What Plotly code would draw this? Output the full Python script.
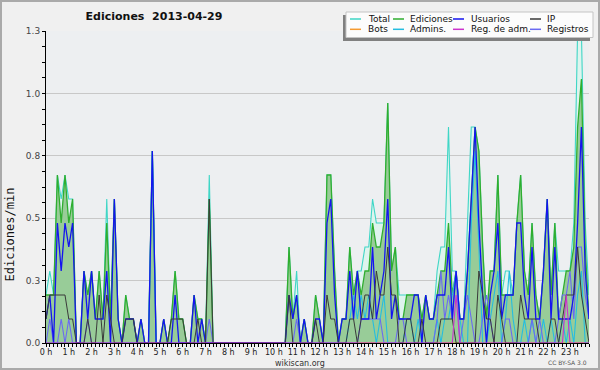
import plotly.graph_objects as go

# ---- data: edits per minute, 10-minute bins (6 per hour) ----
TOTAL = [
    .2, .3, .2, .7, .6, .7,      # 0 h
    .6, .6, 0, 0, .3, .2,        # 1 h
    .3, .1, .3, .1, .6, .1,      # 2 h
    .6, .1, 0, .2, .1, .1,       # 3 h
    0, .1, 0, 0, .8, 0,          # 4 h
    0, .1, 0, .1, .3, .1,        # 5 h
    .1, 0, 0, .2, .1, .1,        # 6 h
    0, .7, 0, 0, 0, 0,           # 7 h
    0, 0, 0, 0, 0, 0,            # 8 h
    0, 0, 0, 0, 0, 0,            # 9 h
    0, 0, 0, 0, .4, .1,          # 10 h
    .3, 0, .1, 0, 0, .2,         # 11 h
    .1, 0, .7, .7, .3, 0,        # 12 h
    .1, .1, .4, .2, .3, .3,      # 13 h
    .4, .4, .6, .5, .5, .5,      # 14 h
    1.0, .3, .4, .2, .2, .2,     # 15 h
    .2, .2, .2, .1, .2, .1,      # 16 h
    .1, .3, .4, .4, .9, .3,      # 17 h
    .3, .1, .1, .5, .9, .9,      # 18 h
    .8, .4, .1, .3, .3, .7,      # 19 h
    .2, .3, .3, .2, .5, .7,      # 20 h
    .3, .2, .5, .2, .1, .3,      # 21 h
    .6, .2, .5, .3, .3, .3,      # 22 h
    .3, .5, 1.3, 1.3, .5, .2,    # 23 h
]
EDICIONES = [
    .2, .2, .2, .7, .5, .7,
    .5, .6, 0, 0, .3, .2,
    .3, .1, .3, .1, .5, .1,
    .6, .1, 0, .2, .1, .1,
    0, .1, 0, 0, .8, 0,
    0, .1, 0, .1, .3, .1,
    .1, 0, 0, .2, .1, .1,
    0, .6, 0, 0, 0, 0,
    0, 0, 0, 0, 0, 0,
    0, 0, 0, 0, 0, 0,
    0, 0, 0, 0, .4, .1,
    .2, 0, .1, 0, 0, .2,
    .1, 0, .7, .7, .3, 0,
    .1, .1, .4, .2, .3, .2,
    .3, .3, .5, .4, .4, .5,
    1.0, .3, .4, .1, .1, .2,
    .2, .2, .2, .1, .2, .1,
    .1, .2, .3, .3, .5, .2,
    .3, .1, .1, .3, .6, .9,
    .8, .4, .1, .3, .3, .7,
    .2, .2, .2, .2, .5, .7,
    .3, .2, .5, .2, .1, .3,
    .6, .2, .5, .1, .2, .3,
    .3, .4, .9, 1.1, .4, .1,
]
USUARIOS = [
    .1, .2, 0, .5, .3, .5,
    .4, .5, 0, 0, .3, .1,
    .3, .1, .1, .1, .3, 0,
    .6, .1, 0, .1, .1, .1,
    0, .1, 0, 0, .8, 0,
    0, .1, 0, 0, .2, 0,
    0, 0, 0, .2, 0, .1,
    0, 0, 0, 0, 0, 0,
    0, 0, 0, 0, 0, 0,
    0, 0, 0, 0, 0, 0,
    0, 0, 0, 0, .2, .1,
    .2, 0, .1, 0, 0, .1,
    .1, 0, .5, .6, .2, 0,
    .1, .1, .3, .1, .3, .1,
    .1, .1, .4, .1, .2, .3,
    .6, .1, .2, .1, .1, .1,
    .1, .2, .2, 0, .2, .1,
    .1, .2, .2, .2, .4, .1,
    .3, .1, .1, .3, .6, .9,
    .5, .2, 0, .2, .3, .5,
    .1, .2, .2, .2, .5, .5,
    .2, .1, .4, .1, .1, .3,
    .6, .1, .4, .1, .1, .1,
    .1, .2, .5, .9, .3, .1,
]
IP = [
    .1, .2, .2, .2, .2, .2,
    .1, .1, 0, 0, 0, .1,
    0, 0, .2, 0, .2, .1,
    0, 0, 0, .1, .1, .1,
    0, 0, 0, 0, 0, 0,
    0, 0, 0, .1, .1, .1,
    .1, 0, 0, 0, .1, 0,
    0, .6, 0, 0, 0, 0,
    0, 0, 0, 0, 0, 0,
    0, 0, 0, 0, 0, 0,
    0, 0, 0, 0, .2, 0,
    0, 0, 0, 0, 0, .1,
    0, 0, .2, .1, .1, 0,
    0, 0, .1, .1, 0, .1,
    .2, .2, .1, .3, .2, .2,
    .4, .2, .2, 0, 0, .1,
    .1, 0, 0, .1, 0, 0,
    0, 0, .1, .1, .1, .1,
    0, 0, 0, 0, 0, 0,
    .3, .2, .1, .1, 0, .2,
    .1, 0, 0, 0, 0, .2,
    .1, .1, .1, .1, 0, 0,
    0, .1, .1, 0, .1, .2,
    .2, .2, .4, .2, .1, 0,
]
BOTS = [0] * 144
ADMINS = [
    0, 0, 0, 0, 0, 0,
    0, 0, 0, 0, 0, 0,
    0, 0, 0, 0, 0, 0,
    0, 0, 0, 0, 0, 0,
    0, 0, 0, 0, .8, 0,
    0, 0, 0, 0, 0, 0,
    0, 0, 0, 0, 0, 0,
    0, 0, 0, 0, 0, 0,
    0, 0, 0, 0, 0, 0,
    0, 0, 0, 0, 0, 0,
    0, 0, 0, 0, 0, 0,
    0, 0, 0, 0, 0, 0,
    0, 0, 0, 0, 0, 0,
    0, 0, .1, .2, .1, .2,
    .1, .2, .1, 0, .1, .2,
    0, 0, 0, 0, 0, .1,
    .1, 0, .1, 0, 0, 0,
    0, .1, 0, .1, .1, .2,
    .3, .1, 0, 0, .5, .8,
    .4, 0, 0, .1, .2, .3,
    0, .1, .3, .1, 0, 0,
    .1, 0, .1, 0, 0, .1,
    0, .1, 0, 0, .1, 0,
    .1, 0, .2, .3, 0, 0,
]
REG_ADM = [0] * 108 + [.2] + [0] * 28 + [.2] + [0] * 6
REGISTROS = [
    0, .1, 0, 0, .1, 0,
    .1, 0, 0, 0, 0, .1,
    0, 0, 0, 0, 0, 0,
    0, 0, 0, 0, 0, 0,
    0, 0, 0, 0, 0, 0,
    0, 0, 0, 0, 0, 0,
    0, 0, 0, 0, 0, 0,
    0, .1, 0, 0, 0, 0,
    0, 0, 0, 0, 0, 0,
    0, 0, 0, 0, 0, 0,
    0, 0, 0, 0, 0, 0,
    .1, 0, 0, 0, 0, 0,
    0, 0, 0, 0, 0, 0,
    0, 0, 0, 0, 0, .1,
    .1, .1, .1, .1, .1, 0,
    0, 0, 0, .1, .1, 0,
    0, 0, 0, 0, 0, 0,
    0, .1, .3, .1, .2, .1,
    .3, 0, .1, .2, .1, 0,
    0, .1, .2, .1, 0, 0,
    0, .1, .1, 0, 0, 0,
    0, 0, .1, 0, .1, 0,
    0, 0, 0, .1, .2, .2,
    .3, .1, .4, .4, .2, .1,
]
Y_TICKS = [0, 0.26, 0.52, 0.78, 1.04, 1.3]
Y_TICK_LABELS = ["0.0", "0.3", "0.5", "0.8", "1.0", "1.3"]

X = [i / 6 for i in range(len(TOTAL))]  # hours

# ---- geometry ----
L, R, T, B = 46, 11, 31, 27
W, H = 600 - L - R, 370 - T - B


def px(xp):
    return (xp - L) / W


def py(yp):
    return (T + H - yp) / H


C = dict(total="#3fd6c6", edic="#2fae2f", usu="#1414f0", ip="#3a3a3a",
         bots="#f59a30", adm="#25bde0", regadm="#cc33cc", reg="#6a6af2")

fig = go.Figure()
fig.add_trace(go.Scatter(x=X, y=TOTAL, name="Total", mode="lines",
                         line=dict(color=C["total"], width=1.1),
                         fill="tozeroy", fillcolor="#def4ee"))
fig.add_trace(go.Scatter(x=X, y=EDICIONES, name="Ediciones", mode="lines",
                         line=dict(color=C["edic"], width=1.3),
                         fill="tozeroy", fillcolor="#98cc98"))
fig.add_trace(go.Scatter(x=X, y=BOTS, name="Bots", mode="lines",
                         line=dict(color=C["bots"], width=1)))
fig.add_trace(go.Scatter(x=X, y=ADMINS, name="Admins.", mode="lines",
                         line=dict(color=C["adm"], width=1.1)))
fig.add_trace(go.Scatter(x=X, y=REGISTROS, name="Registros", mode="lines",
                         line=dict(color=C["reg"], width=1.1)))
fig.add_trace(go.Scatter(x=X, y=USUARIOS, name="Usuarios", mode="lines",
                         line=dict(color=C["usu"], width=1.3)))
fig.add_trace(go.Scatter(x=X, y=IP, name="IP", mode="lines",
                         line=dict(color=C["ip"], width=1)))
fig.add_trace(go.Scatter(x=X, y=REG_ADM, name="Reg. de adm.", mode="lines",
                         line=dict(color=C["regadm"], width=1.1)))

minor_y = [k * 0.065 for k in range(21) if k % 4 != 0]

fig.update_layout(
    width=600, height=370,
    margin=dict(l=L, r=R, t=T, b=B, autoexpand=False),
    paper_bgcolor="#f0f0f0", plot_bgcolor="#edeff1",
    showlegend=False,
    title=dict(text="Ediciones\u00a0 2013-04-29", x=154 / 600, xref="container",
               xanchor="center", y=1 - 16 / 370, yref="container", yanchor="middle",
               font=dict(family="DejaVu Sans", size=11, color="#111", weight="bold")),
    xaxis=dict(range=[0, X[-1]], tick0=0, dtick=1, ticksuffix=" h",
               showgrid=False, zeroline=False, showline=True, linecolor="black",
               linewidth=1, ticks="outside", ticklen=3, tickcolor="black",
               ticklabelstandoff=-2,
               tickfont=dict(family="DejaVu Sans", size=8, color="#222"),
               minor=dict(dtick=1 / 6, tick0=0, ticks="outside", ticklen=3,
                          tickcolor="black", showgrid=False),
               fixedrange=True),
    yaxis=dict(range=[0, 1.3], tickmode="array", tickvals=Y_TICKS,
               ticktext=Y_TICK_LABELS, showgrid=True, gridcolor="#c8c8c8",
               gridwidth=1, zeroline=False, showline=True, linecolor="black",
               linewidth=1, ticks="outside", ticklen=3, tickcolor="black",
               tickfont=dict(family="DejaVu Sans", size=9, color="#444"),
               minor=dict(tickmode="array", tickvals=minor_y, ticks="outside",
                          ticklen=3, tickcolor="black", showgrid=False),
               fixedrange=True),
)

annotations = [
    dict(text="Ediciones/min", x=px(9.5), y=py(235), textangle=-90,
         font=dict(family="DejaVu Sans Mono", size=12, color="#111"),
         xanchor="center", yanchor="middle"),
    dict(text="wikiscan.org", x=px(300), y=py(363),
         font=dict(family="DejaVu Sans", size=8, color="#333"),
         xanchor="center", yanchor="middle"),
    dict(text="CC BY-SA 3.0", x=px(589), y=py(362.5),
         font=dict(family="DejaVu Sans", size=6, color="#555"),
         xanchor="right", yanchor="middle"),
]
shapes = [
    # outer frame
    dict(type="rect", x0=px(1), x1=px(599), y0=py(369), y1=py(1),
         line=dict(color="#aaaaaa", width=2), fillcolor="rgba(0,0,0,0)"),
    # legend shadow and box
    dict(type="rect", x0=px(343), x1=px(590), y0=py(41), y1=py(15),
         line=dict(width=0), fillcolor="#808080"),
    dict(type="rect", x0=px(346), x1=px(593), y0=py(37.5), y1=py(12),
         line=dict(color="#c4c4c4", width=1), fillcolor="#fcfcfc"),
]
legend_items = [
    ("Total", C["total"], 350, 366, 19),
    ("Ediciones", C["edic"], 393, 408, 19),
    ("Usuarios", C["usu"], 453, 469, 19),
    ("IP", C["ip"], 530, 545, 19),
    ("Bots", C["bots"], 350, 366, 29.3),
    ("Admins.", C["adm"], 393, 408, 29.3),
    ("Reg. de adm.", C["regadm"], 453, 469, 29.3),
    ("Registros", C["reg"], 530, 545, 29.3),
]
for name, col, sx, tx, ty in legend_items:
    shapes.append(dict(type="line", x0=px(sx), x1=px(sx + 11), y0=py(ty), y1=py(ty),
                       line=dict(color=col, width=1.5)))
    annotations.append(dict(text=name, x=px(tx), y=py(ty), xanchor="left",
                            yanchor="middle",
                            font=dict(family="DejaVu Sans", size=9, color="#111")))
for a in annotations:
    a.update(xref="paper", yref="paper", showarrow=False)
for s in shapes:
    s.update(xref="paper", yref="paper")
fig.update_layout(annotations=annotations, shapes=shapes)

fig.write_html("out.html", config=dict(displayModeBar=False),
               post_script="document.body.style.margin='0';document.body.style.overflow='hidden';")
